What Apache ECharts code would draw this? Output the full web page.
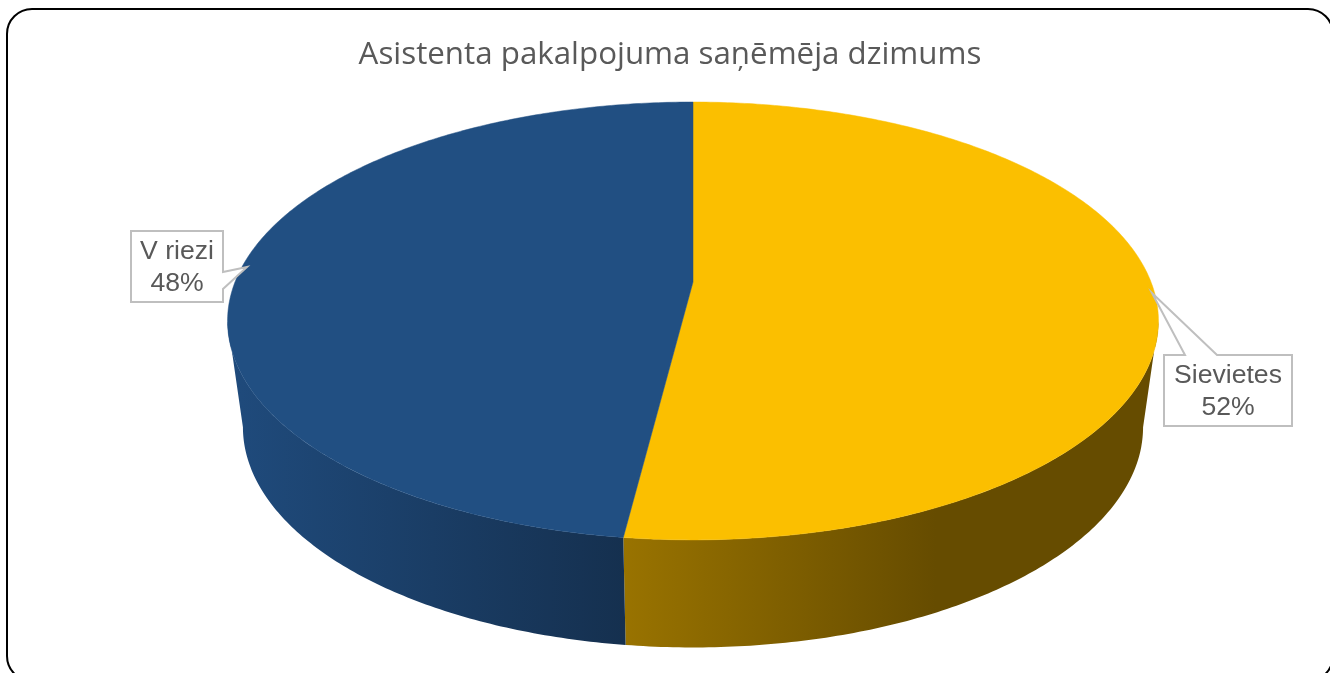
<!DOCTYPE html>
<html><head><meta charset="utf-8">
<style>html,body{margin:0;padding:0;background:#fff;overflow:hidden}#c{width:1330px;height:673px}</style>
<script src="https://cdn.jsdelivr.net/npm/echarts@6/dist/echarts.min.js"></script>
</head><body><div id="c"></div>
<script>
const titleText = 'Asistenta pakalpojuma saņēmēja dzimums';
const categories = ['Sievietes', 'V riezi'];
const shares = [52, 48];
const topColors = ['#FBBF00', '#214F82'];
const sideStops = [
  [[0, '#997300'], [0.6, '#664C00'], [1, '#664C00']],
  [[0, '#1F4A7B'], [1, '#15304F']]
];
const total = shares.reduce((a, b) => a + b, 0);
const cum = []; shares.reduce((a, b, i) => (cum[i] = a, a + b), 0);

// perspective disc projection
const P = {x0: 693, y0: 282, a: 458, b: 212, k: 0.178, sx: 0.967, sy: 1.007, cy: 321, by: 427};
function project(theta) { // clockwise from 12 o'clock, radians
  const X = Math.sin(theta), Y = -Math.cos(theta), w = 1 - P.k * Y;
  return [P.x0 + P.a * X / w, P.y0 + P.b * Y / w];
}
function lower(p) { return [P.x0 + P.sx * (p[0] - P.x0), P.by + P.sy * (p[1] - P.cy)]; }
function arc(t0, t1) {
  const n = Math.max(2, Math.ceil(Math.abs(t1 - t0) * 90)), pts = [];
  for (let i = 0; i <= n; i++) pts.push(project(t0 + (t1 - t0) * i / n));
  return pts;
}
const L = Math.PI / 180, sideFrom = 100.3 * L, sideTo = 259.7 * L;

const callouts = [
  {box: [1164, 355, 1292, 426], pts: [[1164,355],[1185,355],[1152,293],[1217,355],[1292,355],[1292,426],[1164,426]]},
  {box: [131, 231, 223, 302], pts: [[131,231],[223,231],[223,272],[247,267],[223,289],[223,302],[131,302]]}
];

function renderSide(params, api) {
  const i = params.dataIndex;
  const t0 = Math.max(cum[i] / total * 2 * Math.PI, sideFrom);
  const t1 = Math.min((cum[i] + api.value(0)) / total * 2 * Math.PI, sideTo);
  const up = arc(t0, t1), low = up.map(lower).reverse();
  const x0 = i === 0 ? 623 : 240, x1 = i === 0 ? 1144 : 625;
  const grad = new echarts.graphic.LinearGradient(x0, 0, x1, 0,
    sideStops[i].map(s => ({offset: s[0], color: s[1]})), true);
  return {type: 'polygon', shape: {points: up.concat(low)}, style: {fill: grad}, silent: true};
}
function renderTop(params, api) {
  const i = params.dataIndex;
  const t0 = cum[i] / total * 2 * Math.PI, t1 = (cum[i] + api.value(0)) / total * 2 * Math.PI;
  const c = callouts[i], b = c.box;
  return {type: 'group', silent: true, children: [
    {type: 'polygon', shape: {points: [[P.x0, P.y0]].concat(arc(t0, t1))},
     style: {fill: topColors[i], stroke: topColors[i], lineWidth: 0.5}},
    {type: 'polygon', shape: {points: c.pts}, style: {fill: '#fff', stroke: '#BFBFBF', lineWidth: 2}},
    {type: 'text', style: {text: categories[i] + '\n' + api.value(0) + '%', x: (b[0] + b[2]) / 2, y: (b[1] + b[3]) / 2 + 1,
      align: 'center', verticalAlign: 'middle', fontFamily: 'Liberation Sans', fontSize: 26.6, lineHeight: 32, fill: '#595959'}}
  ]};
}
const chart = echarts.init(document.getElementById('c'), null, {renderer: 'canvas'});
chart.setOption({
  animation: false,
  backgroundColor: '#fff',
  title: {text: titleText, left: 665, textAlign: 'center', top: 35, textStyle: {fontFamily: 'Open Sans', fontWeight: 'normal', fontSize: 31.3, color: '#595959'}},
  graphic: [{type: 'rect', shape: {x: 7, y: 9, width: 1326, height: 672, r: 25}, style: {fill: 'none', stroke: '#000', lineWidth: 2}, silent: true, z: -1}],
  series: [
    {type: 'custom', coordinateSystem: 'none', renderItem: renderSide, data: shares.map(v => [v]), z: 2},
    {type: 'custom', coordinateSystem: 'none', renderItem: renderTop, data: shares.map(v => [v]), z: 3}
  ]
});
</script></body></html>
